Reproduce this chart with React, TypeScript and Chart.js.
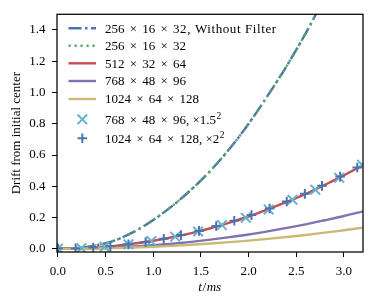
import React, { useEffect, useRef } from 'react';
import { Chart, registerables } from 'chart.js';

Chart.register(...registerables);

// ---- data ----
const tNoFilter = [0, 0.2, 0.4, 0.6, 0.8, 1.0, 1.2, 1.4, 1.6, 1.8, 2.0, 2.2, 2.4, 2.6, 2.8, 3.0];
const noFilterBlue = [0.002, 0.006, 0.022, 0.055, 0.11, 0.185, 0.275, 0.38, 0.5, 0.64, 0.8, 0.98, 1.17, 1.38, 1.61, 1.86];
const noFilterGreen = [0.002, 0.006, 0.022, 0.055, 0.11, 0.185, 0.275, 0.38, 0.5, 0.64, 0.8, 0.98, 1.17, 1.38, 1.61, 1.86];

const tFine = [0, 0.2, 0.4, 0.6, 0.8, 1.0, 1.2, 1.4, 1.6, 1.8, 2.0, 2.2, 2.4, 2.6, 2.8, 3.0, 3.2];
const res512 = [0.0, 0.002, 0.008, 0.019, 0.034, 0.052, 0.074, 0.101, 0.132, 0.168, 0.207, 0.252, 0.3, 0.352, 0.41, 0.47, 0.536];
const res768 = [0.0, 0.001, 0.004, 0.008, 0.015, 0.023, 0.033, 0.045, 0.059, 0.075, 0.092, 0.112, 0.134, 0.157, 0.183, 0.21, 0.24];
const res1024 = [0.0, 0.001, 0.002, 0.005, 0.009, 0.013, 0.019, 0.026, 0.034, 0.043, 0.053, 0.064, 0.076, 0.089, 0.104, 0.119, 0.136];

const tScaled768 = [0, 0.246, 0.49, 0.74, 0.98, 1.23, 1.47, 1.72, 1.97, 2.21, 2.46, 2.7, 2.95, 3.19];
const scaled768 = [0.002, 0.004, 0.013, 0.029, 0.05, 0.078, 0.111, 0.152, 0.199, 0.252, 0.314, 0.378, 0.455, 0.538];

const tScaled1024 = [0, 0.185, 0.37, 0.55, 0.74, 0.92, 1.11, 1.29, 1.48, 1.66, 1.85, 2.03, 2.22, 2.4, 2.59, 2.77, 2.96, 3.14];
const scaled1024 = [0.002, 0.003, 0.008, 0.016, 0.029, 0.044, 0.064, 0.088, 0.115, 0.146, 0.18, 0.216, 0.258, 0.303, 0.352, 0.403, 0.462, 0.52];

const xTicks = [0, 0.5, 1.0, 1.5, 2.0, 2.5, 3.0];
const yTicks = [0, 0.2, 0.4, 0.6, 0.8, 1.0, 1.2, 1.4];

const legendLabels = [
  '256 × 16 × 32, Without Filter',
  '256 × 16 × 32',
  '512 × 32 × 64',
  '768 × 48 × 96',
  '1024 × 64 × 128',
  '768 × 48 × 96, ×1.5²',
  '1024 × 64 × 128, ×2²',
];

const BLUE = '#4C72B0';
const GREEN = '#55A868';
const RED = '#C44E52';
const PURPLE = '#8172B2';
const YELLOW = '#CCB974';
const CYAN = '#64B5CD';

const FONT = "'Liberation Serif', 'Times New Roman', serif";

const toPts = (xs: number[], ys: number[]) => xs.map((x, i) => ({ x, y: ys[i] }));

function drawRich(ctx: CanvasRenderingContext2D, text: string, x: number, y: number) {
  const size = 13;
  const main = `${size}px ${FONT}`;
  const sup = `9.5px ${FONT}`;
  ctx.font = main;
  ctx.textAlign = 'left';
  ctx.textBaseline = 'alphabetic';
  const groupW = 17.75;
  let cx = x;
  const drawPlain = (s: string) => {
    const pieces = s.split('²');
    pieces.forEach((p, j) => {
      if (j > 0) {
        ctx.font = sup;
        ctx.fillText('2', cx + 0.5, y - 4.5);
        cx += ctx.measureText('2').width + 0.5;
        ctx.font = main;
      }
      if (p.length) {
        const hasLetters = /[A-Za-z]/.test(p);
        (ctx as any).letterSpacing = hasLetters ? '0.6px' : '0px';
        ctx.fillText(p, cx, y);
        cx += ctx.measureText(p).width;
        (ctx as any).letterSpacing = '0px';
      }
    });
  };
  const parts = text.split(' × ');
  parts.forEach((p, i) => {
    if (i > 0) {
      const wx = ctx.measureText('×').width;
      const gap = (groupW - wx) / 2;
      cx += gap;
      ctx.fillText('×', cx, y);
      cx += wx + gap;
    }
    drawPlain(p);
  });
}

export default function App() {
  const ref = useRef<HTMLCanvasElement>(null);

  useEffect(() => {
    const canvas = ref.current!;
    const overlay = {
      id: 'overlay',
      afterDraw(chart: any) {
        const ctx: CanvasRenderingContext2D = chart.ctx;
        const a = chart.chartArea;
        ctx.save();
        // frame
        ctx.strokeStyle = '#000';
        ctx.lineWidth = 1.25;
        ctx.strokeRect(a.left, a.top, a.right - a.left, a.bottom - a.top);

        // legend
        const rows = [28.3, 45.7, 63.3, 81, 99, 119.3, 138.3];
        const hx0 = 68.5;
        const hx1 = 96;
        const mx = 82.3;
        const tx = 105;
        rows.forEach((ry, i) => {
          ctx.save();
          ctx.lineCap = 'butt';
          if (i <= 4) {
            ctx.beginPath();
            ctx.moveTo(hx0, ry);
            ctx.lineTo(hx1, ry);
            ctx.lineWidth = 2.4;
            const cols = [BLUE, GREEN, RED, PURPLE, YELLOW];
            ctx.strokeStyle = cols[i];
            if (i === 0) ctx.setLineDash([13, 3.5, 2.5, 3.5]);
            if (i === 1) ctx.setLineDash([2.2, 3.8]);
            ctx.stroke();
          } else if (i === 5) {
            const h = 4.8;
            ctx.strokeStyle = CYAN;
            ctx.lineWidth = 2;
            ctx.beginPath();
            ctx.moveTo(mx - h, ry - h);
            ctx.lineTo(mx + h, ry + h);
            ctx.moveTo(mx - h, ry + h);
            ctx.lineTo(mx + h, ry - h);
            ctx.stroke();
          } else {
            const h = 4.8;
            ctx.strokeStyle = BLUE;
            ctx.lineWidth = 2;
            ctx.beginPath();
            ctx.moveTo(mx - h, ry);
            ctx.lineTo(mx + h, ry);
            ctx.moveTo(mx, ry - h);
            ctx.lineTo(mx, ry + h);
            ctx.stroke();
          }
          ctx.restore();
          ctx.fillStyle = '#000';
          drawRich(ctx, legendLabels[i], tx, ry + 4.3);
        });

        // y title
        ctx.save();
        ctx.fillStyle = '#000';
        ctx.font = `13px ${FONT}`;
        ctx.translate(20, (a.top + a.bottom) / 2);
        ctx.rotate(-Math.PI / 2);
        ctx.textAlign = 'center';
        ctx.textBaseline = 'alphabetic';
        ctx.fillText('Drift from initial center', 0, 0);
        ctx.restore();

        // x title: t/ms (math italic)
        ctx.save();
        ctx.fillStyle = '#000';
        const it = `italic 13px ${FONT}`;
        const up = `13px ${FONT}`;
        const segs: [string, string][] = [['t', it], ['/', up], ['ms', it]];
        let total = 0;
        segs.forEach(([s, f]) => { ctx.font = f; total += ctx.measureText(s).width + 0.6; });
        let cx = (a.left + a.right) / 2 - total / 2;
        ctx.textAlign = 'left';
        ctx.textBaseline = 'alphabetic';
        segs.forEach(([s, f]) => { ctx.font = f; ctx.fillText(s, cx, 291); cx += ctx.measureText(s).width + 0.6; });
        ctx.restore();

        ctx.restore();
      },
    };

    const lineBase = {
      pointRadius: 0,
      cubicInterpolationMode: 'monotone' as const,
      fill: false,
      clip: 0,
      borderCapStyle: 'butt' as const,
    };

    const chart = new Chart(canvas, {
      type: 'line',
      data: {
        datasets: [
          {
            label: legendLabels[6],
            data: toPts(tScaled1024, scaled1024),
            showLine: false,
            pointStyle: 'cross',
            pointRadius: 4.8,
            pointBorderWidth: 2,
            pointBorderColor: BLUE,
            borderColor: BLUE,
            backgroundColor: BLUE,
            clip: 0,
          } as any,
          {
            label: legendLabels[5],
            data: toPts(tScaled768, scaled768),
            showLine: false,
            pointStyle: 'crossRot',
            pointRadius: 6.8,
            pointBorderWidth: 2,
            pointBorderColor: CYAN,
            borderColor: CYAN,
            backgroundColor: CYAN,
            clip: 0,
          } as any,
          { ...lineBase, label: legendLabels[4], data: toPts(tFine, res1024), borderColor: YELLOW, borderWidth: 2.4 },
          { ...lineBase, label: legendLabels[3], data: toPts(tFine, res768), borderColor: PURPLE, borderWidth: 2.4 },
          { ...lineBase, label: legendLabels[2], data: toPts(tFine, res512), borderColor: RED, borderWidth: 2.4 },
          { ...lineBase, label: legendLabels[1], data: toPts(tNoFilter, noFilterGreen), borderColor: GREEN, borderWidth: 2.4, borderDash: [2.2, 3.8] },
          { ...lineBase, label: legendLabels[0], data: toPts(tNoFilter, noFilterBlue), borderColor: BLUE, borderWidth: 2.4, borderDash: [13, 3.5, 2.5, 3.5] },
        ],
      },
      options: {
        animation: false,
        responsive: false,
        devicePixelRatio: 1,
        events: [],
        layout: { padding: { top: 12, right: 11, left: 0, bottom: 0 } },
        plugins: {
          legend: { display: false },
          tooltip: { enabled: false },
        },
        scales: {
          x: {
            type: 'linear',
            min: -0.01,
            max: 3.2,
            afterFit: (s: any) => { s.height = 55; },
            afterBuildTicks: (s: any) => { s.ticks = xTicks.map((v) => ({ value: v })); },
            ticks: {
              callback: (v: any) => Number(v).toFixed(1),
              font: { family: FONT, size: 13 },
              color: '#000',
              padding: 7,
              maxRotation: 0,
              autoSkip: false,
            },
            grid: { display: true, drawOnChartArea: false, drawTicks: true, tickLength: 5, color: '#000', lineWidth: 1 },
            border: { display: false },
          },
          y: {
            type: 'linear',
            min: -0.02,
            max: 1.5,
            afterFit: (s: any) => { s.width = 57; },
            afterBuildTicks: (s: any) => { s.ticks = yTicks.map((v) => ({ value: v })); },
            ticks: {
              callback: (v: any) => Number(v).toFixed(1),
              font: { family: FONT, size: 13 },
              color: '#000',
              padding: 6.5,
              autoSkip: false,
            },
            grid: { display: true, drawOnChartArea: false, drawTicks: true, tickLength: 5, color: '#000', lineWidth: 1 },
            border: { display: false },
          },
        },
      } as any,
      plugins: [overlay],
    });
    return () => chart.destroy();
  }, []);

  return (
    <div style={{ position: 'fixed', left: 0, top: 0, width: 374, height: 307, background: '#fff' }}>
      <canvas ref={ref} width={374} height={307} style={{ display: 'block', width: 374, height: 307 }} />
    </div>
  );
}
